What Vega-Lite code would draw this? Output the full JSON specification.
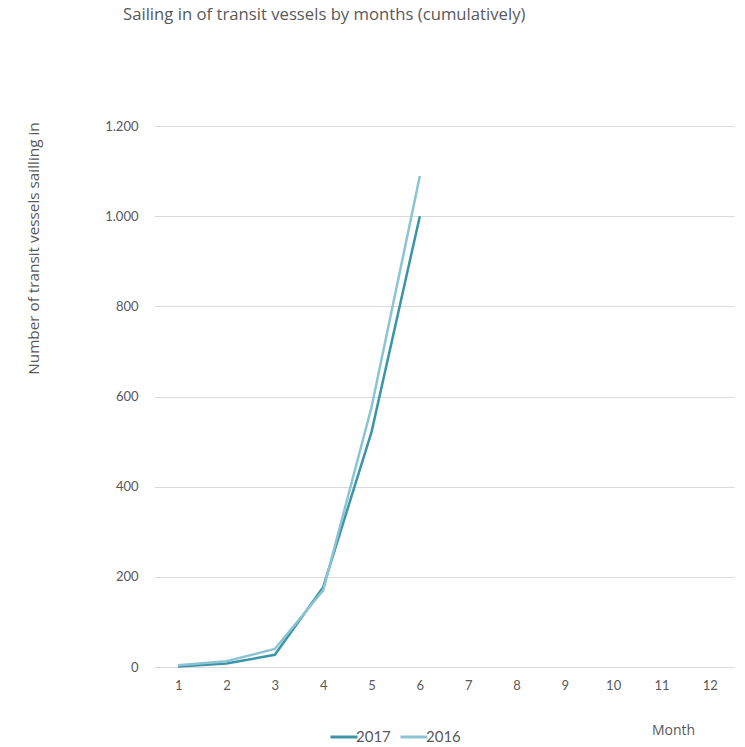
{
  "$schema": "https://vega.github.io/schema/vega-lite/v6.json",
  "autosize": "none",
  "padding": {"left": 154, "top": 126, "right": 11, "bottom": 80},
  "width": 580,
  "height": 541,
  "title": {
    "text": "Sailing  in of transit vessels by months (cumulatively)",
    "anchor": "start",
    "frame": "group",
    "dx": -31,
    "offset": 96,
    "fontSize": 16.7,
    "fontWeight": "normal",
    "font": "Open Sans",
    "color": "#595959"
  },
  "data": {
    "values": [
      {"month": 1, "year": "2017", "vessels": 1},
      {"month": 2, "year": "2017", "vessels": 8},
      {"month": 3, "year": "2017", "vessels": 27},
      {"month": 4, "year": "2017", "vessels": 177},
      {"month": 5, "year": "2017", "vessels": 521},
      {"month": 6, "year": "2017", "vessels": 1000},
      {"month": 1, "year": "2016", "vessels": 4},
      {"month": 2, "year": "2016", "vessels": 13},
      {"month": 3, "year": "2016", "vessels": 40},
      {"month": 4, "year": "2016", "vessels": 170},
      {"month": 5, "year": "2016", "vessels": 576},
      {"month": 6, "year": "2016", "vessels": 1089}
    ]
  },
  "mark": {"type": "line", "strokeWidth": 2.5},
  "encoding": {
    "x": {
      "field": "month",
      "type": "ordinal",
      "scale": {"domain": [1, 2, 3, 4, 5, 6, 7, 8, 9, 10, 11, 12]},
      "axis": {
        "title": "Month",
        "labelAngle": 0,
        "domain": false,
        "ticks": false,
        "grid": false,
        "labelPadding": 12,
        "titleFont": "Open Sans",
        "titleFontSize": 14,
        "titleX": 519,
        "titleY": 63,
        "titleAlign": "center",
        "titleBaseline": "middle"
      }
    },
    "y": {
      "field": "vessels",
      "type": "quantitative",
      "scale": {"domain": [0, 1200], "nice": false},
      "axis": {
        "title": "Number of transit vessels sailling in",
        "values": [0, 200, 400, 600, 800, 1000, 1200],
        "labelExpr": "replace(format(datum.value, ','), ',', '.')",
        "domain": false,
        "ticks": false,
        "labelPadding": 16,
        "gridColor": "#d9d9d9",
        "titleFont": "Open Sans",
        "titleFontSize": 15.3,
        "titleX": -121,
        "titleY": 122,
        "titleAngle": -90,
        "titleAlign": "center",
        "titleBaseline": "middle"
      }
    },
    "color": {
      "field": "year",
      "type": "nominal",
      "scale": {"domain": ["2017", "2016"], "range": ["#3a95a9", "#8cc4d4"]},
      "legend": {
        "title": null,
        "orient": "none",
        "direction": "horizontal",
        "legendX": 175,
        "legendY": 596,
        "symbolType": "stroke",
        "symbolSize": 729,
        "symbolStrokeWidth": 3,
        "labelFontSize": 15,
        "labelOffset": -3,
        "columnPadding": 3
      }
    }
  },
  "config": {
    "font": "Lato",
    "view": {"stroke": null},
    "axis": {
      "labelFont": "Lato",
      "labelFontSize": 13,
      "labelColor": "#595959",
      "titleFont": "Lato",
      "titleFontSize": 13,
      "titleFontWeight": "normal",
      "titleColor": "#595959"
    },
    "legend": {"labelFont": "Lato", "labelColor": "#595959"}
  }
}
